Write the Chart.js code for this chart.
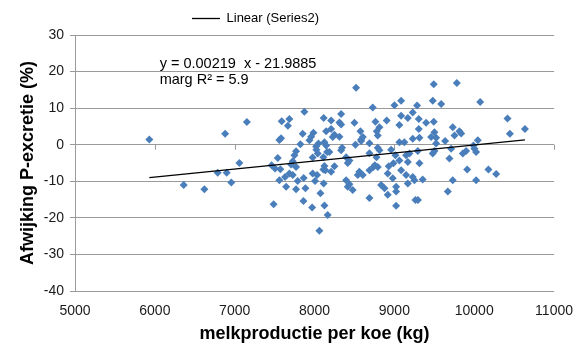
<!DOCTYPE html>
<html><head><meta charset="utf-8">
<script src="https://cdn.jsdelivr.net/npm/chart.js@4.4.1/dist/chart.umd.min.js"></script>
<style>html,body{margin:0;padding:0;background:#fff;}#wrap{width:585px;height:349px;position:relative;}</style>
</head><body><div id="wrap"><canvas id="c" width="585" height="349"></canvas></div>
<script>
// melkproductie per koe (kg)
const milkX = [
5931,6880,7153,7059,6787,6900,6958,6361,6620,
7873,7589,7685,7666,8115,7852,7957,7986,7581,7560,8145,7823,8020,8049,8124,8158,7769,7539,7748,7977,7727,
7463,7506,7572,7706,7769,8124,8111,7560,7631,7685,7727,7789,7769,7864,7977,8032,8007,7644,7886,8115,
8074,7488,7861,7970,8124,8165,8061,8023,
8520,9085,9001,8729,9284,8333,9085,9168,9230,9305,8208,8904,8763,8500,8312,8333,9398,9493,9063,8813,
9305,9731,9815,9837,8575,8779,8249,8228,8312,8584,8792,9230,9314,9502,9523,9636,9753,10045,9063,7936,
8145,8345,8584,8688,8792,8813,8959,8688,9502,9481,9711,9690,9857,9899,9147,9189,9293,9013,8040,8111,
8186,8396,8437,8416,8562,8604,8688,8738,8792,8930,8988,9063,9168,9085,9147,9230,9251,9168,9355,8917,
8980,8834,8876,8917,9022,9022,9022,9264,9295,8688,8396,8437,8478,8416,9731,9669,9912,10024,10178,10275,
8136,8208,8249,10417,10635,10447,9782,9493,10075,9481,9586,10003,10024,9314,9460,9523,9990,8776,8755,8541,
8208,8605,9125,8512,8333
];
// Afwijking P-excretie (%)
const deviationY = [
1.4,3.0,6.2,-5.0,-7.7,-7.7,-10.3,-11.0,-12.2,
9.0,6.4,7.0,5.2,7.3,3.0,2.2,3.3,1.8,1.3,3.7,0.1,-0.5,0.3,0.7,-2.0,-1.8,-3.6,-2.9,-3.5,-4.5,
-5.6,-6.5,-6.7,-5.4,-6.1,-5.8,-6.8,-9.7,-8.8,-7.9,-8.3,-9.9,-12.2,-9.1,-7.9,-8.3,-9.9,-11.5,-11.9,-10.6,
-13.3,-16.3,-15.4,-17.2,-16.6,-19.2,-23.5,-1.4,
15.6,12.0,10.8,10.2,10.7,8.4,7.9,7.3,8.8,7.0,6.6,6.6,6.3,6.0,6.1,5.5,6.0,6.3,5.4,4.8,
4.3,4.8,3.7,3.1,3.7,3.7,2.7,2.1,2.2,1.4,2.5,1.6,1.9,3.4,1.9,1.0,2.5,1.2,0.7,1.2,
-0.2,-0.8,1.0,0.4,-0.8,-1.5,-1.4,-2.3,-1.7,-2.4,-1.1,-3.8,-2.4,-1.7,-2.9,-2.4,-1.7,-2.9,-2.4,-3.4,
-2.0,-3.4,-4.3,-5.0,-7.4,-8.3,-7.0,-6.1,-6.1,-5.9,-5.1,-4.3,-4.7,-7.0,-8.3,-8.8,-9.7,-10.6,-9.5,-7.9,
-9.2,-11.0,-11.9,-13.7,-11.5,-12.8,-16.7,-15.1,-15.1,-14.6,-9.7,-10.8,-12.4,-11.5,-9.7,-12.8,-6.8,-9.7,-6.8,-8.0,
-7.0,-7.4,-5.9,7.2,4.3,3.0,16.9,16.5,11.7,12.0,11.1,-1.1,-2.0,-5.1,2.1,0.3,-0.2,-3.4,-5.6,-8.3,
4.3,2.1,0.7,0.0,-1.5
];
// trendline end points
const trendX = [5931, 10635];
const trendY = [-9.0, 1.3];
const xTickValues = [5000, 6000, 7000, 8000, 9000, 10000, 11000];
const yTickValues = [-40, -30, -20, -10, 0, 10, 20, 30];
const legendLabel = 'Linear (Series2)';
const equationLines = ['y = 0.00219  x - 21.9885', 'marg R\u00B2 = 5.9'];
const equationAnchor = [6060, 22.0, 17.6]; // x value, y values of the two text lines
const xTitle = 'melkproductie per koe (kg)';
const yTitle = 'Afwijking P-excretie (%)';

const FONT = "'Liberation Sans', Arial, Helvetica, sans-serif";
const GRID = '#9a9a9a';

const scatterData = milkX.map((x, i) => ({x: x, y: deviationY[i]}));
const trendData = trendX.map((x, i) => ({x: x, y: trendY[i]}));

const extras = {
  id: 'extras',
  afterLayout(chart) {
    const lg = chart.legend;
    if (lg) { lg.left -= 24; lg.right -= 24; }
  },
  beforeDatasetsDraw(chart) {
    const ctx = chart.ctx, xs = chart.scales.x, ys = chart.scales.y;
    const y0 = ys.getPixelForValue(0);
    ctx.save();
    ctx.strokeStyle = GRID; ctx.lineWidth = 1;
    ctx.beginPath();
    xTickValues.slice(1).forEach(v => {
      const px = Math.round(xs.getPixelForValue(v)) + 0.5;
      ctx.moveTo(px, y0); ctx.lineTo(px, y0 + 5);
    });
    ctx.stroke();
    ctx.restore();
  },
  afterDatasetsDraw(chart) {
    const ctx = chart.ctx, xs = chart.scales.x, ys = chart.scales.y;
    ctx.save();
    ctx.fillStyle = '#000';
    ctx.font = '14.5px ' + FONT;
    ctx.textBaseline = 'middle';
    ctx.textAlign = 'left';
    const px = xs.getPixelForValue(equationAnchor[0]);
    ctx.fillText(equationLines[0], px, ys.getPixelForValue(equationAnchor[1]));
    ctx.fillText(equationLines[1], px, ys.getPixelForValue(equationAnchor[2]));
    ctx.restore();
  }
};

new Chart(document.getElementById('c'), {
  type: 'scatter',
  data: {
    datasets: [
      {
        label: 'Series2',
        data: scatterData,
        pointStyle: 'rectRot',
        pointRadius: 4,
        pointHoverRadius: 4,
        backgroundColor: '#4A7EBB',
        borderColor: '#4A7EBB',
        borderWidth: 0,
        order: 2
      },
      {
        label: legendLabel,
        type: 'line',
        data: trendData,
        borderColor: '#000',
        backgroundColor: '#000',
        borderWidth: 1.3,
        pointRadius: 0,
        fill: false,
        order: 1
      }
    ]
  },
  options: {
    responsive: false,
    animation: false,
    devicePixelRatio: 1,
    layout: {padding: {left: 4, right: 30, top: 4, bottom: 4}},
    plugins: {
      tooltip: {enabled: false},
      legend: {
        display: true,
        position: 'top',
        labels: {
          filter: (item) => item.text === legendLabel,
          usePointStyle: true,
          pointStyle: 'line',
          pointStyleWidth: 28,
          boxHeight: 12,
          color: '#000',
          font: {family: FONT, size: 13},
          padding: 8
        }
      }
    },
    scales: {
      x: {
        type: 'linear',
        position: 'bottom',
        min: 5000, max: 11000,
        afterBuildTicks: (s) => { s.ticks = xTickValues.map(v => ({value: v})); },
        afterFit: (s) => { s.height = 54; },
        grid: {display: false, drawTicks: false},
        border: {display: false},
        ticks: {color: '#1a1a1a', font: {family: FONT, size: 14}, padding: 12, maxRotation: 0, callback: (v) => String(v)},
        title: {display: true, text: xTitle, color: '#000', font: {family: FONT, size: 18, weight: 'bold'}, padding: {top: 0, bottom: 0}}
      },
      y: {
        type: 'linear',
        min: -40, max: 30,
        afterBuildTicks: (s) => { s.ticks = yTickValues.map(v => ({value: v})); },
        afterFit: (s) => { s.width = 71; },
        grid: {color: GRID, lineWidth: 1, tickLength: 5, drawTicks: true},
        border: {display: true, color: GRID, width: 1},
        ticks: {color: '#1a1a1a', font: {family: FONT, size: 14}, padding: 6, callback: (v) => String(v)},
        title: {display: true, text: yTitle, color: '#000', font: {family: FONT, size: 18, weight: 'bold'}, padding: {top: 13, bottom: 0}}
      }
    }
  },
  plugins: [extras]
});
</script>
</body></html>
